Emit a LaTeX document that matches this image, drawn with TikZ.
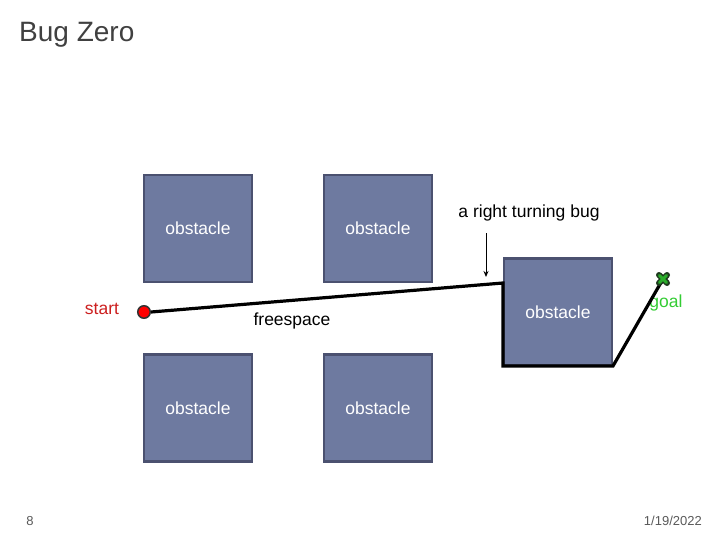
\documentclass[tikz,border=0pt]{standalone}
\usepackage{fontspec}
\setmainfont{Liberation Sans}
\usetikzlibrary{arrows.meta}
\definecolor{obsfill}{HTML}{6E7AA0}
\definecolor{obsdraw}{HTML}{4B5170}
\definecolor{titlegray}{HTML}{404040}
\definecolor{startred}{HTML}{CC1F1F}
\definecolor{goalgreen}{HTML}{33CC33}
\definecolor{markdark}{HTML}{1F3A1F}
\tikzset{
  obstacle/.style={draw=obsdraw, line width=2.5pt, fill=obsfill, minimum width=108pt, minimum height=107pt, inner sep=0pt, text=white, font=\fontsize{17.5}{20}\selectfont},
  lbl/.style={inner sep=0pt, font=\fontsize{17.5}{20}\selectfont},
  path/.style={line width=3.2pt, line join=miter},
  foot/.style={inner sep=0pt, text=black!65, font=\fontsize{13}{15}\selectfont}
}
\begin{document}
\begin{tikzpicture}[x=1pt, y=-1pt]
\useasboundingbox (0,0) rectangle (720,540);
% title
\node[anchor=west, inner sep=0pt, text=titlegray, font=\fontsize{28}{32}\selectfont] (title) at (19,35) {Bug Zero};
% obstacles
\node[obstacle] (o1) at (198,228.5) {obstacle};
\node[obstacle] (o2) at (378,228.5) {obstacle};
\node[obstacle] (o3) at (198,408) {obstacle};
\node[obstacle] (o4) at (378,408) {obstacle};
\node[obstacle] (o5) at (558,312) {obstacle};
% labels
\node[lbl, text=startred] (startlbl) at (102,309) {start};
\node[lbl] (free) at (292,321) {freespace};
\node[lbl] (bug) at (529,213) {a right turning bug};
\node[lbl, text=goalgreen] (goallbl) at (666,303) {goal};
% path
\coordinate (c1) at (503,283);
\coordinate (c2) at (503,366);
\coordinate (c3) at (613,366);
\node[inner sep=0pt, minimum size=0pt] (goal) at (663,279) {};
\node[circle, draw=black!80, line width=1.5pt, fill=red, minimum size=12.5pt, inner sep=0pt] (start) at (144,312) {};
\draw[path] (start.east) -- (c1) -- (c2) -- (c3) -- (goal.center);
% goal marker
\draw[line width=6pt, markdark, line cap=round] (goal.center) ++(-4,-4) -- ++(8,8) (goal.center) ++(-4,4) -- ++(8,-8);
\draw[line width=3pt, goalgreen!85!black, line cap=round] (goal.center) ++(-3.5,-3.5) -- ++(7,7) (goal.center) ++(-3.5,3.5) -- ++(7,-7);
% arrow
\coordinate (atop) at (486,233);
\coordinate (atip) at (486,277);
\draw[line width=1pt, -{Stealth[length=6pt,width=5pt]}] (atop) -- (atip);
% footer
\node[foot] (pg) at (30,521) {8};
\node[foot, anchor=east] (date) at (702,521) {1/19/2022};
\end{tikzpicture}
\end{document}
